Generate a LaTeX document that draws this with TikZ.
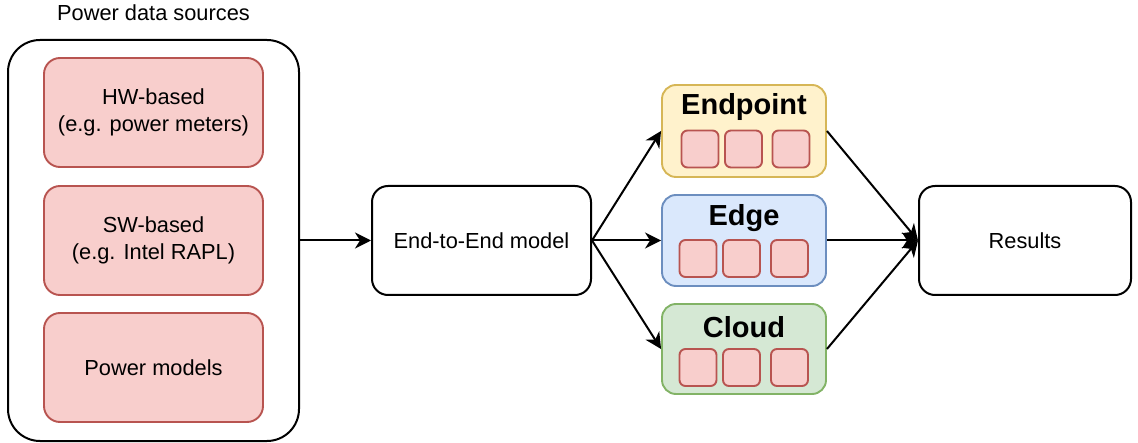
\documentclass[tikz,border=0pt]{standalone}
\usepackage{fontspec}
\setmainfont{Liberation Sans}
\usetikzlibrary{arrows.meta}
\definecolor{redfill}{HTML}{F8CECC}
\definecolor{redline}{HTML}{B85450}
\definecolor{yelfill}{HTML}{FFF2CC}
\definecolor{yelline}{HTML}{D6B656}
\definecolor{blufill}{HTML}{DAE8FC}
\definecolor{bluline}{HTML}{6C8EBF}
\definecolor{grnfill}{HTML}{D5E8D4}
\definecolor{grnline}{HTML}{82B366}
\tikzset{
  txt/.style={font=\fontsize{21.8}{27.5}\selectfont, align=center, inner sep=0pt},
  bold/.style={font=\fontsize{29}{34}\selectfont\bfseries, inner sep=0pt},
  blackbox/.style={draw=black, line width=2pt, fill=white, rounded corners=16pt, inner sep=0pt,
    minimum width=219pt, minimum height=109pt, txt},
  redbox/.style={draw=redline, line width=1.9pt, fill=redfill, rounded corners=16pt, inner sep=0pt,
    minimum width=219pt, minimum height=109pt, txt},
  tier/.style={line width=1.9pt, rounded corners=14pt, inner sep=0pt, minimum width=164pt, minimum height=91pt},
  sq/.style={draw=redline, fill=redfill, line width=1.9pt, rounded corners=6pt, inner sep=0pt,
    minimum width=37pt, minimum height=37pt},
  conn/.style={line width=2pt, -{Stealth[length=16pt,width=16pt,inset=5pt]}},
}
\begin{document}
\begin{tikzpicture}[x=1pt,y=-1pt]
\useasboundingbox (0,0) rectangle (1138,443);
% sources
\node[draw=black, line width=2pt, rounded corners=32pt, minimum width=291pt, minimum height=401pt, inner sep=0pt] (src) at (153.5,240.5) {};
\node[txt] (srctitle) at (153.5,13) {Power data sources};
\node[redbox] (hw) at (153.5,112.5) {HW-based\\(e.g. power meters)};
\node[redbox] (sw) at (153.5,240.5) {SW-based\\(e.g. Intel RAPL)};
\node[redbox] (pm) at (153.5,367.5) {Power models};
% model
\node[blackbox] (e2e) at (481.5,240.5) {End-to-End model};
% tiers
\node[tier, draw=yelline, fill=yelfill, minimum height=92pt] (endp) at (744,131) {};
\node[bold] (endpt) at (744,107) {Endpoint};
\node[sq] (e1) at (700,149) {};
\node[sq] (e2) at (743.5,149) {};
\node[sq] (e3) at (791,149) {};
\node[tier, draw=bluline, fill=blufill] (edge) at (744,240.5) {};
\node[bold] (edget) at (744,218) {Edge};
\node[sq] (d1) at (698,258.5) {};
\node[sq] (d2) at (741.5,258.5) {};
\node[sq] (d3) at (789.5,258.5) {};
\node[tier, draw=grnline, fill=grnfill, minimum height=90pt] (cloud) at (744,349) {};
\node[bold] (cloudt) at (744,327) {Cloud};
\node[sq] (c1) at (698,367.5) {};
\node[sq] (c2) at (741.5,367.5) {};
\node[sq] (c3) at (789.5,367.5) {};
% results
\node[blackbox, minimum width=212pt] (res) at (1025,240.5) {Results};
% connectors
\draw[conn] (src.east) -- (e2e.west);
\draw[conn] (e2e.east) -- (endp.west);
\draw[conn] (e2e.east) -- (edge.west);
\draw[conn] (e2e.east) -- (cloud.west);
\draw[conn] (endp.east) -- (res.west);
\draw[conn] (edge.east) -- (res.west);
\draw[conn] (cloud.east) -- (res.west);
\end{tikzpicture}
\end{document}
